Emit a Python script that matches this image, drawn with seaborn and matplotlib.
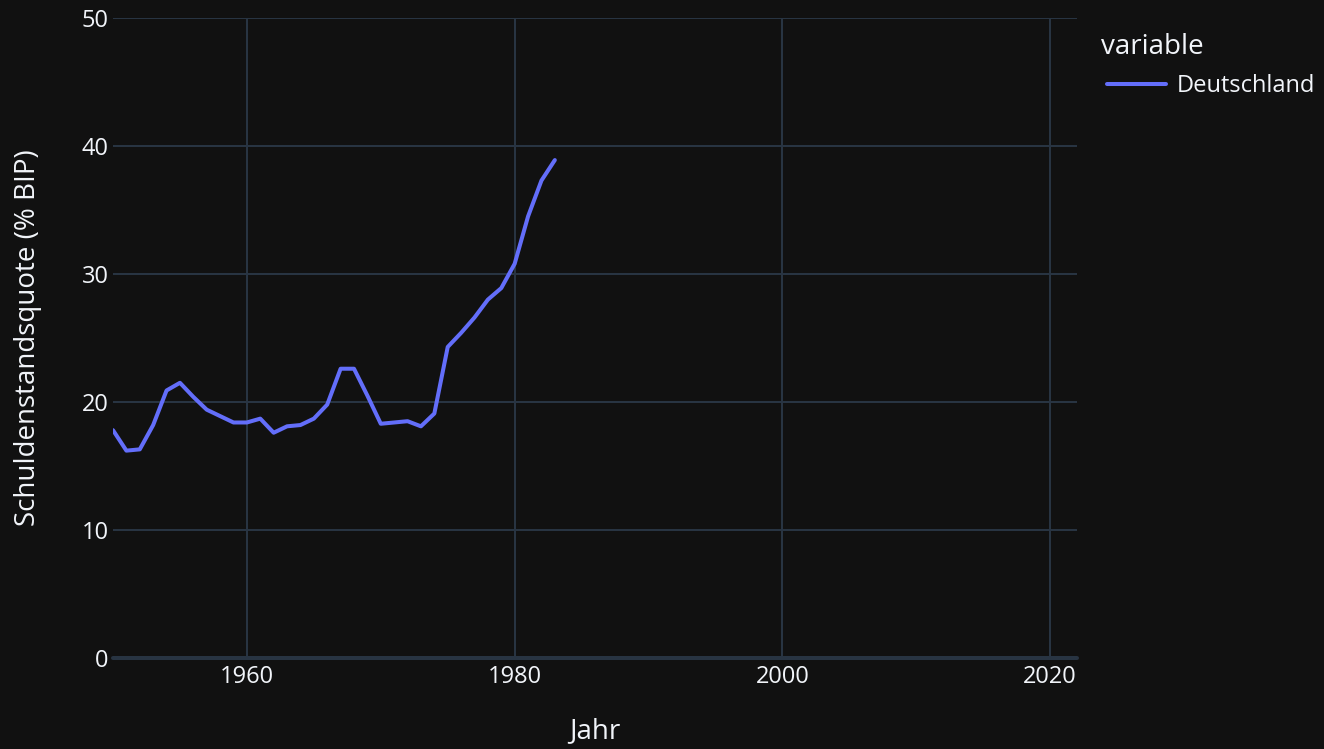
import matplotlib
matplotlib.use("Agg")
import matplotlib.pyplot as plt
import seaborn as sns
import pandas as pd

years = list(range(1950, 1984))
deutschland = [17.8, 16.2, 16.3, 18.2, 20.9, 21.5, 20.4, 19.4, 18.9, 18.4,
               18.4, 18.7, 17.6, 18.1, 18.2, 18.7, 19.8, 22.6, 22.6, 20.5,
               18.3, 18.4, 18.5, 18.1, 19.1, 24.3, 25.4, 26.6, 28.0, 28.9,
               30.8, 34.5, 37.3, 38.9]
series_name = "Deutschland"
legend_title = "variable"
x_ticks = [1960, 1980, 2000, 2020]
y_ticks = [0, 10, 20, 30, 40, 50]

df = pd.DataFrame({"Jahr": years, "value": deutschland, "variable": series_name})

BG = "#111111"
GRID = "#283442"
TEXT = "#f2f5fa"
LINE = "#636efa"

sns.set_theme(style="dark")
plt.rcParams["font.family"] = ["Open Sans", "DejaVu Sans"]

fig = plt.figure(figsize=(13.24, 7.49), dpi=100, facecolor=BG)
ax = fig.add_axes([113/1324, 1-658/749, (1077-113)/1324, (658-18)/749])
ax.set_facecolor(BG)

sns.lineplot(data=df, x="Jahr", y="value", hue="variable", palette=[LINE],
             linewidth=2.9, ax=ax, legend=True)

ax.set_xlim(1950, 2022)
ax.set_ylim(0, 50)
ax.set_xticks(x_ticks)
ax.set_yticks(y_ticks)
ax.grid(True, color=GRID, linewidth=1.44)
ax.set_axisbelow(True)
ax.axhline(0, color=GRID, linewidth=2.9, zorder=1.5, clip_on=False)
for s in ax.spines.values():
    s.set_visible(False)
ax.tick_params(axis="both", length=0, colors=TEXT, labelsize=17)
ax.tick_params(axis="y", pad=3)
ax.tick_params(axis="x", pad=5)
for lbl in ax.get_xticklabels() + ax.get_yticklabels():
    lbl.set_color(TEXT)

ax.set_xlabel("Jahr", color=TEXT, fontsize=20)
ax.set_ylabel("Schuldenstandsquote (% BIP)", color=TEXT, fontsize=20)
ax.xaxis.set_label_coords((595-113)/(1077-113), -(731-658)/(658-18))
ax.yaxis.set_label_coords(-(113-28)/(1077-113), 0.5)
ax.xaxis.label.set_verticalalignment("center")
ax.yaxis.label.set_verticalalignment("center")

handles, labels = ax.get_legend_handles_labels()
ax.get_legend().remove()
fig.text(1101/1324, 1-47/749, legend_title, color=TEXT, fontsize=20,
         ha="left", va="center")
leg = fig.legend(handles, labels, loc="center left",
                 bbox_to_anchor=(1107/1324, 1-86/749), frameon=False,
                 fontsize=17, handlelength=2.5,
                 handletextpad=0.47, borderaxespad=0, borderpad=0)
for t in leg.get_texts():
    t.set_color(TEXT)
for h in leg.get_lines():
    h.set_linewidth(2.9)

fig.savefig("out.png", dpi=100, facecolor=BG)
